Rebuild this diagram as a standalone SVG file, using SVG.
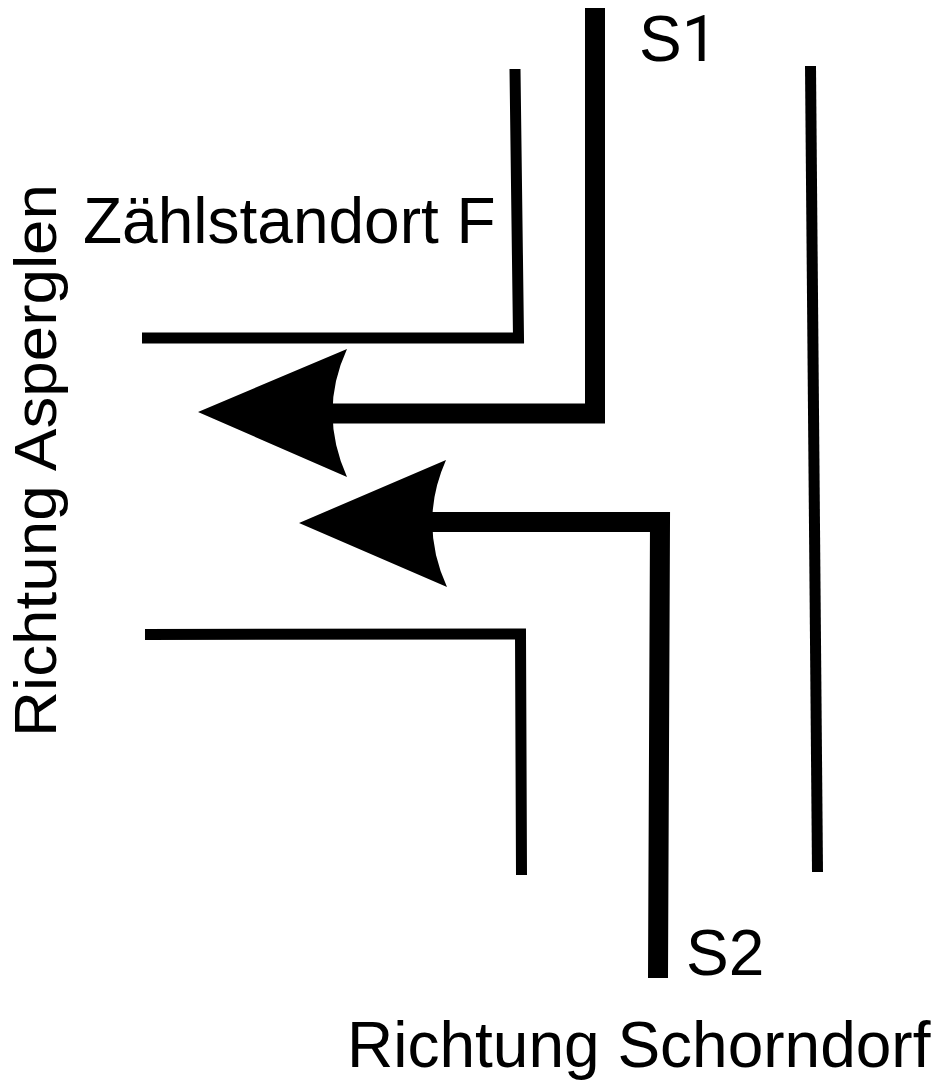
<svg xmlns="http://www.w3.org/2000/svg" width="939" height="1081" viewBox="0 0 939 1081">
<style>
.t{font-family:"Liberation Sans",Arial,sans-serif;font-size:64px;fill:#000}
.w{fill:none;stroke:#000;stroke-width:11}
.f{fill:none;stroke:#000;stroke-width:20}
</style>
<rect width="939" height="1081" fill="#fff"/>
<g id="connectors">
<path class="w" d="M515 69L518.500 338H142"/>
<path class="w" d="M145 634.500L520.500 634L521.500 875"/>
<path class="w" d="M810.500 66L817.500 872"/>
<path class="f" d="M595 8V413.500H330"/>
<path class="f" d="M658 978L660 522H430"/>
<path d="M198 412L347 349Q318 412 347 477Z"/>
<path d="M299 523L446 460Q418 523 447 587Z"/>
</g>
<g id="labels">
<text class="t" x="639" y="61">S<tspan font-family="Roboto,sans-serif">1</tspan></text>
<text class="t" x="686" y="975">S2</text>
<text class="t" x="83" y="243">Zählstandort F</text>
<text class="t" x="347" y="1067">Richtung Schorndorf</text>
<text class="t" style="font-size:60px" textLength="553" lengthAdjust="spacingAndGlyphs" transform="translate(56 737) rotate(-90)">Richtung Asperglen</text>
</g>
</svg>
